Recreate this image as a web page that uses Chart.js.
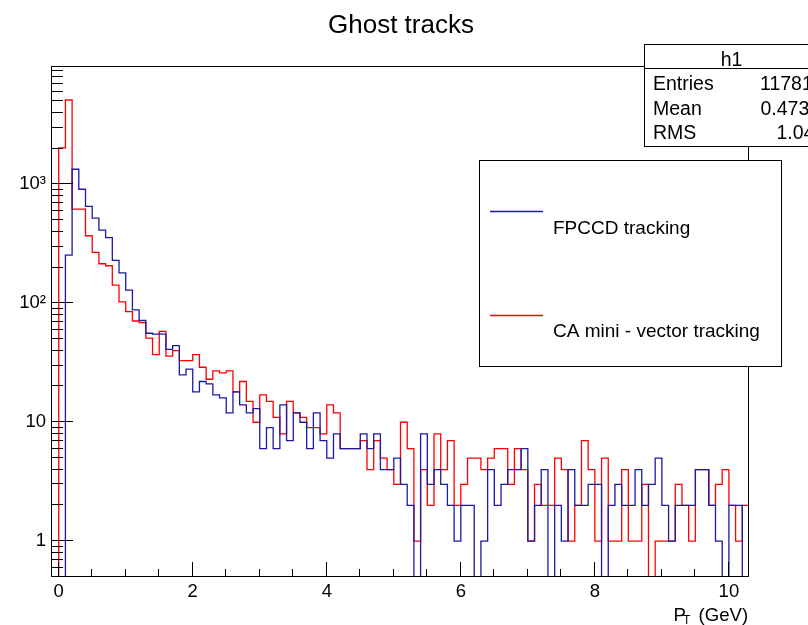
<!DOCTYPE html>
<html>
<head>
<meta charset="utf-8">
<title>Ghost tracks</title>
<script src="https://cdn.jsdelivr.net/npm/chart.js@4.4.1/dist/chart.umd.min.js"></script>
<style>
  html, body { margin: 0; padding: 0; background: #ffffff; }
  canvas { display: block; }
</style>
</head>
<body>
<canvas id="ghost" width="808" height="625"></canvas>
<script>
// Histogram binning: 104 bins of 0.1 GeV starting at -0.1 GeV
const X_MIN = -0.1;
const X_MAX = 10.3;
const BIN_WIDTH = 0.1;
const Y_MIN = 0.5;
const Y_MAX = 9700;

// Ghost-track counts per bin (first bin is [-0.1, 0.0))
const fpccdCounts = [
  0, 0, 254, 1340, 910, 653, 521, 413, 356, 230,
  180, 129, 88, 72, 56, 55, 55, 41, 44, 25,
  28, 18, 22, 21, 17, 16, 12, 18, 14, 12,
  13, 6, 9, 6, 14, 7, 12, 10, 6, 12,
  7, 5, 8, 6, 6, 6, 8, 6, 8, 4,
  4, 5, 3, 2, 0, 8, 3, 4, 3, 2,
  1, 2, 2, 0, 1, 4, 2, 3, 4, 4,
  6, 1, 2, 4, 0, 2, 1, 4, 2, 2,
  3, 3, 0, 2, 3, 2, 2, 4, 2, 3,
  5, 2, 1, 2, 2, 2, 4, 4, 2, 1,
  0, 2, 2, 0
];
const caCounts = [
  0, 2030, 5120, 620, 620, 370, 268, 215, 207, 142,
  103, 85, 71, 69, 51, 37, 58, 36, 40, 33,
  33, 37, 29, 23, 27, 26, 27, 18, 22, 15,
  10, 17, 15, 11, 8, 15, 12, 11, 9, 9,
  8, 14, 12, 6, 6, 6, 7, 4, 7, 5,
  4, 3, 10, 6, 1, 4, 2, 8, 4, 7,
  2, 3, 5, 5, 4, 5, 6, 6, 3, 6,
  4, 1, 3, 2, 2, 5, 4, 1, 2, 7,
  4, 1, 5, 1, 1, 4, 1, 1, 3, 0,
  1, 1, 1, 3, 2, 1, 4, 4, 2, 3,
  4, 2, 1, 2
];

const seriesLabels = ['FPCCD tracking', 'CA mini - vector tracking'];
const seriesColors = ['rgb(26,26,165)', 'rgb(255,0,0)'];

const xMajorTicks = [0, 2, 4, 6, 8, 10];
const xMinorStep = 0.5;
const yMajorTicks = [1, 10, 100, 1000];
const yTickLabels = ['1', '10', '10\u00B2', '10\u00B3'];

const statsTitle = 'h1';
const statsNames = ['Entries', 'Mean', 'RMS'];
const statsValues = ['11781', '0.473', '1.04'];

const FONT = '"Liberation Sans", Arial, Helvetica, sans-serif';

// Turn bin counts into step-line vertices at the bin low edges.
// Empty bins sit on the axis floor, like a ROOT log-y histogram.
function histogramPoints(counts) {
  const pts = counts.map((c, i) => ({ x: X_MIN + i * BIN_WIDTH, y: c > 0 ? c : Y_MIN }));
  const last = counts[counts.length - 1];
  pts.push({ x: X_MAX, y: last > 0 ? last : Y_MIN });
  return pts;
}

// Frame, inward ticks, title, axis title, legend and stats panel
const rootStylePlugin = {
  id: 'rootStyle',
  afterDraw(chart) {
    const ctx = chart.ctx;
    const area = chart.chartArea;
    const xs = chart.scales.x;
    const ys = chart.scales.y;
    ctx.save();
    ctx.strokeStyle = '#000';
    ctx.lineWidth = 1;

    // frame
    ctx.strokeRect(area.left - 0.5, area.top - 0.5, area.right - area.left, area.bottom - area.top);

    // x ticks (pointing up from the bottom axis)
    ctx.beginPath();
    for (let v = 0; v <= 10.0001; v += xMinorStep) {
      const major = xMajorTicks.some(t => Math.abs(t - v) < 1e-6);
      const px = Math.round(xs.getPixelForValue(v)) - 0.5;
      const len = major ? 15 : 8;
      ctx.moveTo(px, area.bottom);
      ctx.lineTo(px, area.bottom - len);
    }
    // y ticks (pointing right from the left axis)
    for (let dec = 0.1; dec <= 1000; dec *= 10) {
      for (let m = 1; m <= 9; m++) {
        const v = m * dec;
        if (v < Y_MIN * 1.0001 || v > Y_MAX) continue;
        const py = Math.round(ys.getPixelForValue(v)) - 0.5;
        const len = m === 1 ? 21 : 11;
        ctx.moveTo(area.left, py);
        ctx.lineTo(area.left + len, py);
      }
    }
    ctx.stroke();

    ctx.fillStyle = '#000';
    ctx.textBaseline = 'alphabetic';

    // title
    ctx.font = '26px ' + FONT;
    ctx.textAlign = 'center';
    ctx.fillText('Ghost tracks', 401, 33);

    // x axis title: P_T (GeV)
    ctx.textAlign = 'left';
    ctx.font = '18.6px ' + FONT;
    ctx.fillText('P', 673.5, 620.5);
    ctx.font = '12px ' + FONT;
    ctx.fillText('T', 683, 623.5);
    ctx.font = '18.6px ' + FONT;
    ctx.fillText('(GeV)', 698.5, 620.5);

    // legend panel
    ctx.fillStyle = '#fff';
    ctx.fillRect(479.5, 160.5, 302, 206);
    ctx.strokeRect(479.5, 160.5, 302, 206);
    const legendLineY = [211.5, 315.5];
    const legendTextY = [234, 337];
    chart.data.datasets.forEach((ds, i) => {
      ctx.strokeStyle = ds.borderColor;
      ctx.lineWidth = 1.3;
      ctx.beginPath();
      ctx.moveTo(490, legendLineY[i]);
      ctx.lineTo(543, legendLineY[i]);
      ctx.stroke();
      ctx.fillStyle = '#000';
      ctx.font = '19px ' + FONT;
      ctx.textAlign = 'left';
      ctx.fillText(ds.label, 553, legendTextY[i]);
    });

    // statistics panel
    ctx.strokeStyle = '#000';
    ctx.lineWidth = 1;
    ctx.fillStyle = '#fff';
    ctx.fillRect(644.5, 44.5, 200, 102);
    ctx.strokeRect(644.5, 44.5, 200, 102);
    ctx.beginPath();
    ctx.moveTo(644.5, 68.5);
    ctx.lineTo(844.5, 68.5);
    ctx.stroke();
    ctx.fillStyle = '#000';
    ctx.font = '19.5px ' + FONT;
    ctx.textAlign = 'center';
    ctx.fillText(statsTitle, 731.5, 66);
    ctx.textAlign = 'left';
    const rowY = [90, 115, 139];
    const valueX = [760, 760.5, 776.5];
    statsNames.forEach((name, i) => {
      ctx.fillText(name, 653, rowY[i]);
      ctx.fillText(statsValues[i], valueX[i], rowY[i]);
    });
    ctx.restore();
  }
};

Chart.defaults.font.family = FONT;
Chart.defaults.color = '#000';

new Chart(document.getElementById('ghost'), {
  type: 'line',
  data: {
    datasets: [
      {
        label: seriesLabels[0],
        data: histogramPoints(fpccdCounts),
        borderColor: seriesColors[0],
        borderWidth: 1.3,
        stepped: true,
        pointRadius: 0,
        fill: false
      },
      {
        label: seriesLabels[1],
        data: histogramPoints(caCounts),
        borderColor: seriesColors[1],
        borderWidth: 1.3,
        stepped: true,
        pointRadius: 0,
        fill: false
      }
    ]
  },
  options: {
    responsive: false,
    animation: false,
    devicePixelRatio: 1,
    layout: { padding: { left: 0, top: 67, right: 59, bottom: 0 } },
    plugins: {
      legend: { display: false },
      tooltip: { enabled: false },
      title: { display: false }
    },
    scales: {
      x: {
        type: 'linear',
        min: X_MIN,
        max: X_MAX,
        grid: { display: false, drawTicks: false },
        border: { display: false },
        afterBuildTicks: s => { s.ticks = xMajorTicks.map(v => ({ value: v })); },
        afterFit: s => { s.height = 48; },
        ticks: {
          autoSkip: false,
          maxRotation: 0,
          padding: 3.5,
          font: { size: 18.5 },
          callback: v => String(v)
        }
      },
      y: {
        type: 'logarithmic',
        min: Y_MIN,
        max: Y_MAX,
        grid: { display: false, drawTicks: false },
        border: { display: false },
        afterBuildTicks: s => { s.ticks = yMajorTicks.map(v => ({ value: v, major: true })); },
        afterFit: s => { s.width = 52; },
        ticks: {
          autoSkip: false,
          padding: 6,
          font: { size: 18.5 },
          callback: v => {
            const k = yMajorTicks.indexOf(v);
            return k >= 0 ? yTickLabels[k] : '';
          }
        }
      }
    }
  },
  plugins: [rootStylePlugin]
});
</script>
</body>
</html>
